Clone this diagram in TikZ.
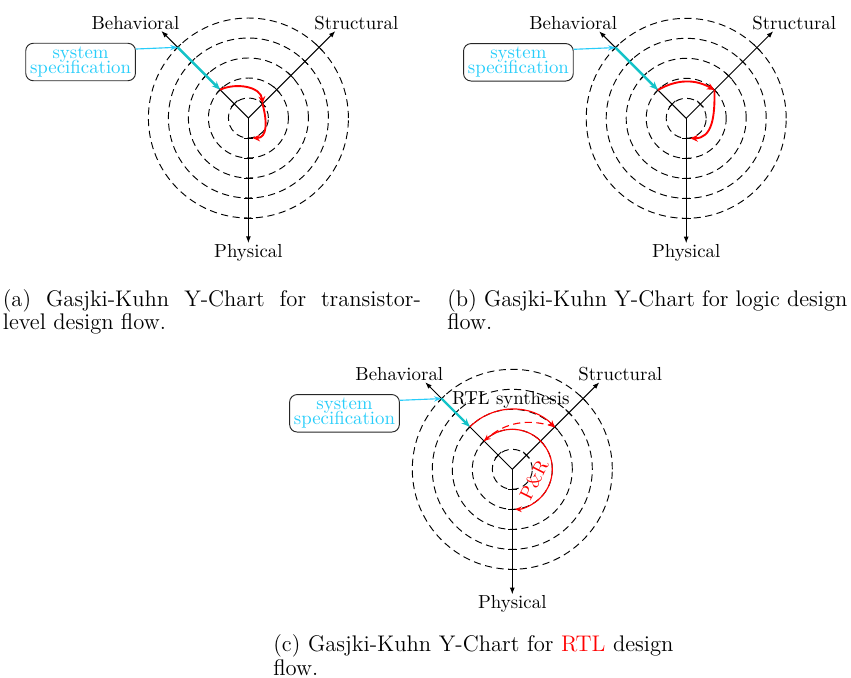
\documentclass[tikz,border=0pt]{standalone}
\usetikzlibrary{arrows.meta}
\definecolor{specblue}{RGB}{40,205,250}
\definecolor{specteal}{RGB}{20,195,200}
\tikzset{
  circ/.style={dash pattern=on 3.8pt off 2.4pt, line width=0.5pt},
  axisline/.style={line width=0.5pt, -{Latex[length=3.5pt,width=2.6pt]}},
  tickmark/.style={line width=0.5pt},
  lbl/.style={inner sep=0pt},
  specbox/.style={draw=black!85, rounded corners=4pt, align=center, text=specblue, inner xsep=2.3pt, inner ysep=1.9pt, line width=0.5pt},
  specarrow/.style={specblue, line width=0.6pt, -{Stealth[length=4pt,width=2.8pt]}},
  tealline/.style={specteal, line width=1.3pt, -{Stealth[length=4.5pt,width=3.6pt]}},
  redthick/.style={red, line width=1pt, -{Stealth[length=4pt,width=3.6pt]}},
  redthin/.style={red, line width=0.6pt, -{Stealth[length=3.5pt,width=3pt]}},
  captext/.style={inner sep=0pt, anchor=base west, font=\fontsize{12}{14}\selectfont},
}
\newcommand{\ychart}[3]{%
\begin{scope}[shift={#2}]
  \coordinate (#1O) at (0,0);
  \foreach \r in {20,40,60,80,100} {
    \draw[circ] (0,0) circle[radius=\r];
    \coordinate (#1B\r) at (135:\r);
    \coordinate (#1S\r) at (45:\r);
    \coordinate (#1P\r) at (-90:\r);
  }
  \coordinate (#1Bt) at (135:123);
  \coordinate (#1St) at (45:123);
  \coordinate (#1Pt) at (-90:125);
  \draw[axisline] (#1O) -- (#1Bt);
  \draw[axisline] (#1O) -- (#1St);
  \draw[axisline] (#1O) -- (#1Pt);
  \foreach \r in {20,40,60,80,100} {
    \foreach \a in {135,45,-90} {
      \draw[tickmark, rotate=\a] (\r,-4.5) -- (\r,4.5);
    }
  }
  \node[lbl] (#1lb) at (-113,95.3) {Behavioral};
  \node[lbl] (#1ls) at (108,95.3) {Structural};
  \node[lbl] (#1lp) at (0,-135) {Physical};
  \node[specbox] (#1box) at (-167.8,56) {system\\[-4pt]specification};
  \draw[specarrow] ([yshift=6.9pt]#1box.east) -- (#1B100);
  \draw[tealline] (#1B100) -- (#1B#3);
\end{scope}}
\begin{document}
\begin{tikzpicture}[x=0.531pt, y=0.531pt]
\useasboundingbox (0,0) rectangle (851,-677);
% chart (a)
\ychart{a}{(248.4,-118)}{40}
\draw[redthick] (aB40) to[out=25,in=95] (aS20);
\draw[redthick, shorten >=2.2pt] (aS20) to[out=-75,in=0,looseness=1.3] (aP20);
% chart (b)
\ychart{b}{(686.2,-118.3)}{40}
\draw[redthick] (bB40) to[out=30,in=150] (bS40);
\draw[redthick, shorten >=2.2pt] (bS40) to[out=-89,in=0,looseness=1.2] (bP20);
% chart (c)
\ychart{c}{(512.3,-469.3)}{60}
\node[lbl] (rtl) at (510.8,-400) {RTL synthesis};
\draw[redthin] (cB60) arc[start angle=135, end angle=45, radius=60];
\draw[redthin, dash pattern=on 3.8pt off 2.4pt] (cS60) to[bend right=30] (cB40);
\draw[redthin, shorten >=1.5pt] (cB40) arc[start angle=135, end angle=-90, radius=40];
\node[lbl, text=red, rotate=63] (pr) at (534,-480) {P\&R};
% captions
\node[captext] (capa1) at (2.5,-306) {\makebox[222pt][s]{(a) Gasjki-Kuhn Y-Chart for transistor-}};
\node[captext] (capa2) at (2.5,-329.3) {level design flow.};
\node[captext] (capb1) at (447,-306) {\makebox[212.4pt][s]{(b) Gasjki-Kuhn Y-Chart for logic design}};
\node[captext] (capb2) at (447,-329.3) {flow.};
\node[captext] (capc1) at (273,-651.7) {\makebox[212.4pt][s]{(c) Gasjki-Kuhn Y-Chart for \textcolor{red}{RTL} design}};
\node[captext] (capc2) at (273,-675) {flow.};
\end{tikzpicture}
\end{document}
